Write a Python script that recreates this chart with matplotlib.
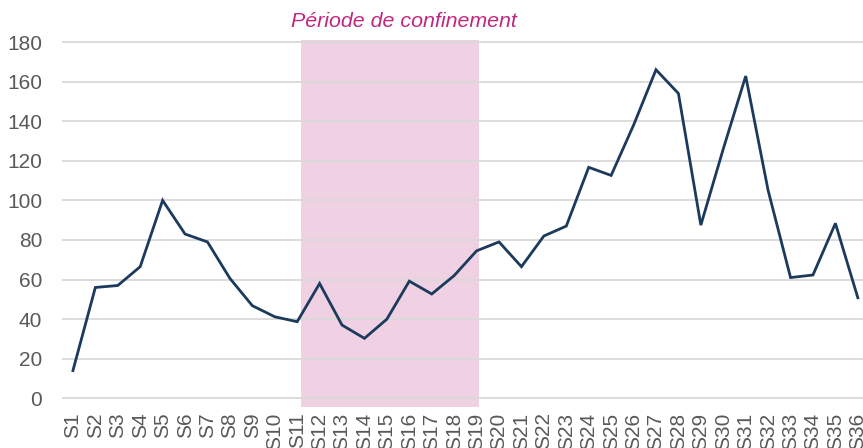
import matplotlib
matplotlib.use("Agg")
import matplotlib.pyplot as plt

# semaines et valeurs
semaines = [f"S{i}" for i in range(1, 37)]
valeurs = [14, 56, 57, 66.5, 100, 83, 79, 60.6, 46.8, 41.2, 38.7,
           58, 37, 30.3, 40, 59.2, 52.7, 62, 74.5, 79, 66.5, 82, 87,
           116.7, 112.6, 138, 166, 154, 87.5, 126, 162.8, 105, 61, 62.3,
           88.4, 50.8]
yticks = list(range(0, 181, 20))

# periode de confinement (en positions de semaine)
confinement_debut = 11.17
confinement_fin = 19.1

plt.rcParams['font.family'] = ['Liberation Sans', 'DejaVu Sans']

fig = plt.figure(figsize=(8.63, 4.48), dpi=100)
ax = fig.add_axes([0.0715, 0.0888, 0.9355, 0.8307])

x = list(range(1, len(semaines) + 1))

ax.fill_between([confinement_debut, confinement_fin], -4.2, 181,
                color="#F0D1E3", linewidth=0, zorder=1)
ax.plot(x, valeurs, color="#1B3A5C", linewidth=2.0, zorder=3,
        solid_joinstyle="miter")

ax.set_xlim(0.5, 36.5)
ax.set_ylim(-5, 183)
ax.set_yticks(yticks)
ax.set_xticks(x)
ax.set_xticklabels(semaines, rotation=90, va="top", ha="center")

ax.yaxis.grid(True, color="#D9D9D9", linewidth=1.3, zorder=2)
ax.set_axisbelow(False)
for s in ax.spines.values():
    s.set_visible(False)
ax.tick_params(axis="both", length=0, labelsize=15, colors="#595959")
ax.tick_params(axis="x", pad=3)
ax.tick_params(axis="y", pad=14)

fig.text(0.468, 0.953, "Période de confinement", color="#C2277F",
         fontsize=15.4, style="italic", ha="center", va="center")

fig.savefig("out.png", dpi=100)
